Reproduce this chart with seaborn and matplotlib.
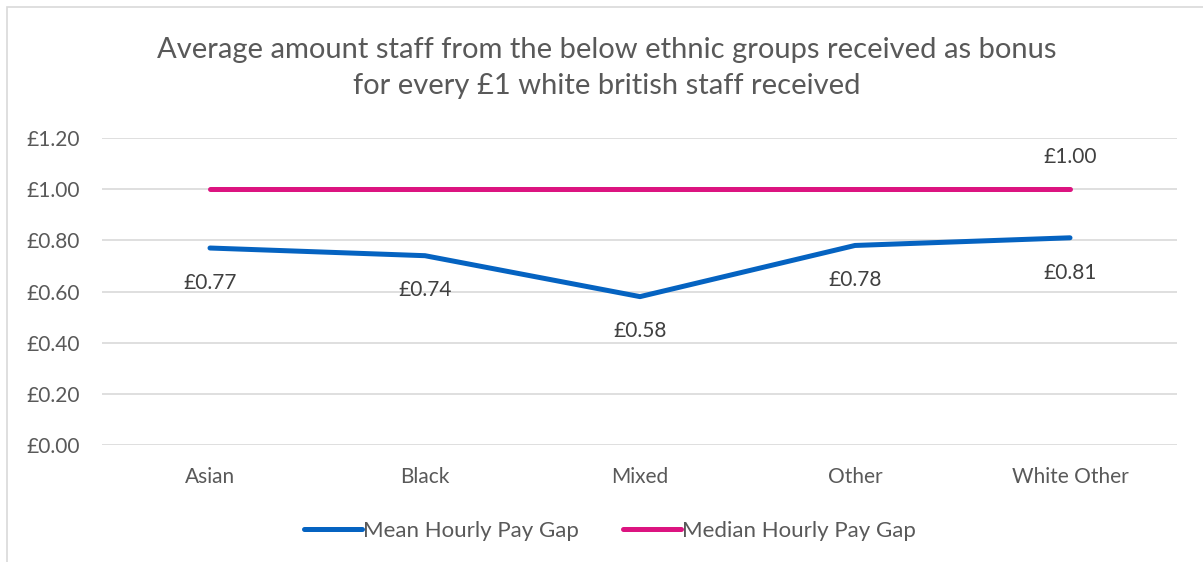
import numpy as np
import pandas as pd
import matplotlib.pyplot as plt
import seaborn as sns
from matplotlib.patches import Rectangle

# data
groups = ["Asian", "Black", "Mixed", "Other", "White Other"]
mean_gap = [0.77, 0.74, 0.58, 0.78, 0.81]
median_gap = [1.00, 1.00, 1.00, 1.00, 1.00]
y_ticks = [0.0, 0.2, 0.4, 0.6, 0.8, 1.0, 1.2]

df = pd.DataFrame({
    "group": groups * 2,
    "value": mean_gap + median_gap,
    "series": ["Mean Hourly Pay Gap"] * 5 + ["Median Hourly Pay Gap"] * 5,
})

sns.set_style("white")
plt.rcParams['font.family'] = ['Lato', 'DejaVu Sans']
text_col = "#595959"

fig = plt.figure(figsize=(12.03, 5.62), dpi=100)
ax = fig.add_axes([0.0852, 0.2082, 0.8936, 0.5462])

palette = {"Mean Hourly Pay Gap": "#0563C1", "Median Hourly Pay Gap": "#DC1480"}
sns.lineplot(data=df, x="group", y="value", hue="series", palette=palette,
             sort=False, linewidth=3.6, ax=ax, solid_capstyle="round")

ax.set_xlim(-0.5, len(groups) - 0.5)
ax.set_ylim(0, 1.2)
ax.set_yticks(y_ticks)
ax.set_yticklabels([f"£{v:.2f}" for v in y_ticks])
ax.yaxis.grid(True, color="#d9d9d9", linewidth=1.2)
ax.set_axisbelow(True)
for s in ax.spines.values():
    s.set_visible(False)
ax.tick_params(axis="both", length=0, labelsize=15, colors=text_col)
ax.tick_params(axis="x", pad=16)
ax.tick_params(axis="y", pad=16)
ax.set_xlabel("")
ax.set_ylabel("")

# data labels
for i, v in enumerate(mean_gap):
    ax.annotate(f"£{v:.2f}", (i, v), xytext=(0, -25), textcoords="offset points",
                ha="center", va="center", fontsize=15, color="#404040")
ax.annotate(f"£{median_gap[-1]:.2f}", (len(groups) - 1, median_gap[-1]),
            xytext=(0, 23), textcoords="offset points",
            ha="center", va="center", fontsize=15, color="#404040")

fig.suptitle("Average amount staff from the below ethnic groups received as bonus\n"
             "for every £1 white british staff received",
             x=0.504, y=0.935, fontsize=21, color=text_col, linespacing=1.5)

leg = ax.legend(loc="center", bbox_to_anchor=(0.472, -0.279), ncol=2, frameon=False,
                fontsize=16, handlelength=2.6, handletextpad=0.05, columnspacing=2.0)
for t in leg.get_texts():
    t.set_color(text_col)

fig.patches.append(Rectangle((7 / 1203, -0.1), 1.2, 1 - 7 / 562 + 0.1,
                             transform=fig.transFigure, fill=False,
                             edgecolor="#d9d9d9", linewidth=1.2))

fig.savefig("out.png", dpi=100)
